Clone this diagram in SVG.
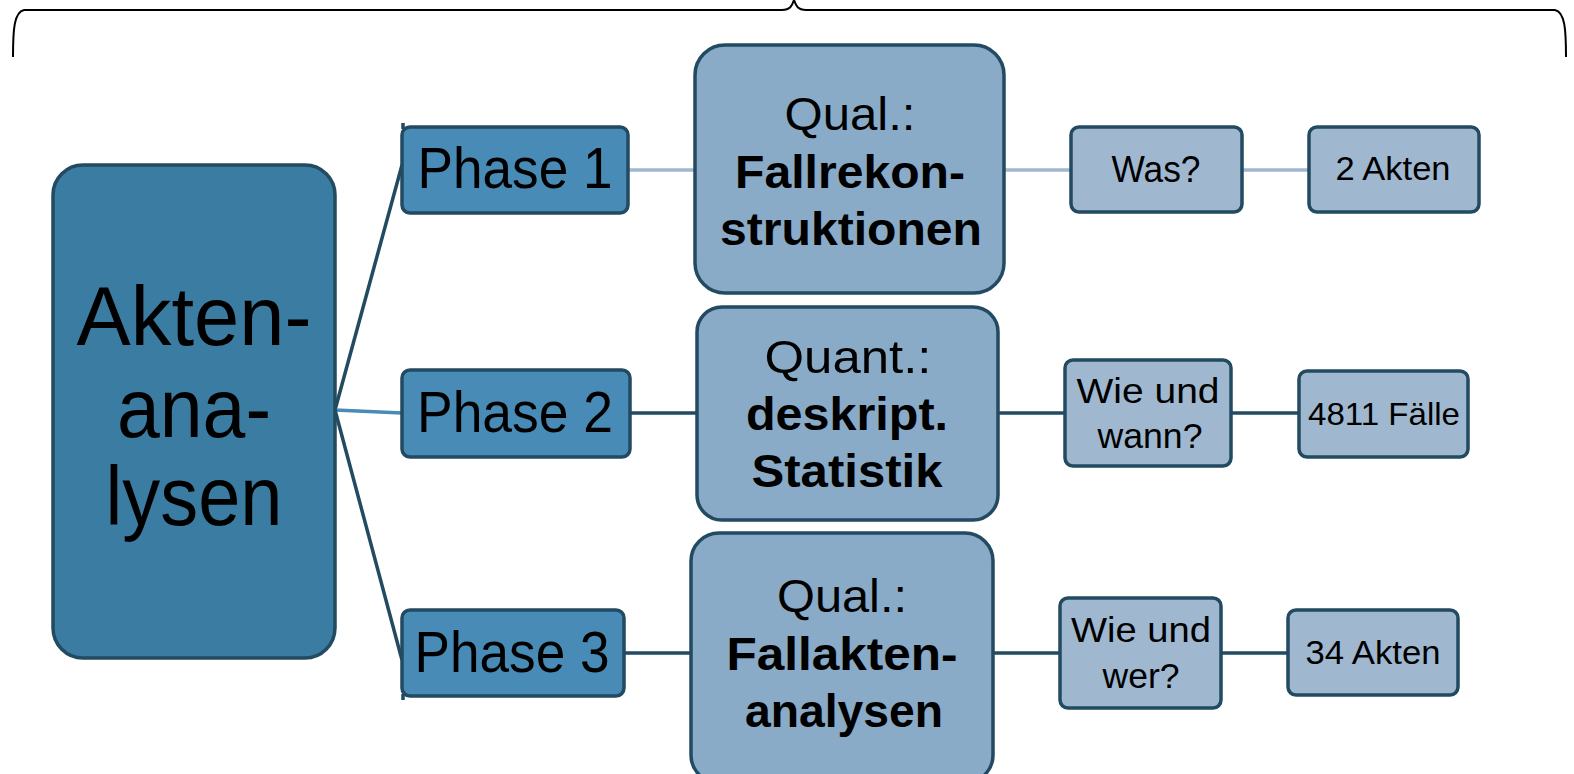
<svg xmlns="http://www.w3.org/2000/svg" width="1574" height="774" viewBox="0 0 1574 774">
<style>
.box{stroke:#224a61;stroke-width:3.5}
.main{fill:#3b7ca2}
.ph{fill:#478bb6}
.big{fill:#89abc7}
.sm{fill:#9fb8d0}
text{font-family:"Liberation Sans",Arial,sans-serif;fill:#000;text-anchor:middle}
.b{font-weight:bold}
.cd{stroke:#224a61;stroke-width:3.5;fill:none}
.cl{stroke:#9fb8d0;stroke-width:3.5;fill:none}
.cm{stroke:#478bb6;stroke-width:3.5;fill:none}
</style>
<path d="M13,57 C13,30 14,12 24,10 L782,10 C790,10 792,6 794,0 C796,6 798,10 806,10 L1555,10 C1565,12 1566,30 1566,57" fill="none" stroke="#000" stroke-width="2"/>
<g id="connectors">
<line class="cd" x1="335" y1="410" x2="402" y2="165"/>
<line class="cd" x1="403" y1="129" x2="403" y2="123"/>
<line class="cm" x1="335" y1="410" x2="402" y2="413"/>
<line class="cd" x1="335" y1="410" x2="402" y2="660"/>
<line class="cd" x1="403" y1="694" x2="403" y2="700"/>
<line class="cl" x1="628" y1="170" x2="695" y2="170"/>
<line class="cl" x1="1004" y1="170" x2="1071" y2="170"/>
<line class="cl" x1="1242" y1="170" x2="1309" y2="170"/>
<line class="cd" x1="630" y1="413" x2="697" y2="413"/>
<line class="cd" x1="998" y1="413" x2="1065" y2="413"/>
<line class="cd" x1="1231" y1="413" x2="1299" y2="413"/>
<line class="cd" x1="624" y1="653" x2="691" y2="653"/>
<line class="cd" x1="993" y1="653" x2="1060" y2="653"/>
<line class="cd" x1="1221" y1="653" x2="1288" y2="653"/>
</g>
<g id="akten">
<rect class="box main" x="53" y="165" width="282" height="493" rx="30"/>
<text x="194" y="345" font-size="84" textLength="235" lengthAdjust="spacingAndGlyphs">Akten-</text>
<text x="194" y="437" font-size="84" textLength="154" lengthAdjust="spacingAndGlyphs">ana-</text>
<text x="194" y="525" font-size="84" textLength="177" lengthAdjust="spacingAndGlyphs">lysen</text>
</g>
<g id="phase1">
<rect class="box ph" x="402" y="127" width="226" height="86" rx="8"/>
<text x="515" y="188" font-size="58" textLength="195" lengthAdjust="spacingAndGlyphs">Phase 1</text>
</g>
<g id="phase2">
<rect class="box ph" x="402" y="370" width="228" height="87" rx="8"/>
<text x="515" y="432" font-size="58" textLength="196" lengthAdjust="spacingAndGlyphs">Phase 2</text>
</g>
<g id="phase3">
<rect class="box ph" x="402" y="610" width="222" height="86" rx="8"/>
<text x="512" y="672" font-size="58" textLength="195" lengthAdjust="spacingAndGlyphs">Phase 3</text>
</g>
<g id="qual1">
<rect class="box big" x="695" y="45" width="309" height="248" rx="30"/>
<text x="850" y="130" font-size="46" textLength="131" lengthAdjust="spacingAndGlyphs">Qual.:</text>
<text class="b" x="850" y="188" font-size="46" textLength="230" lengthAdjust="spacingAndGlyphs">Fallrekon-</text>
<text class="b" x="851" y="245" font-size="46" textLength="262" lengthAdjust="spacingAndGlyphs">struktionen</text>
</g>
<g id="quant">
<rect class="box big" x="697" y="307" width="301" height="213" rx="25"/>
<text x="848" y="373" font-size="46" textLength="167" lengthAdjust="spacingAndGlyphs">Quant.:</text>
<text class="b" x="847" y="430" font-size="46" textLength="202" lengthAdjust="spacingAndGlyphs">deskript.</text>
<text class="b" x="847" y="487" font-size="46" textLength="191" lengthAdjust="spacingAndGlyphs">Statistik</text>
</g>
<g id="qual3">
<rect class="box big" x="691" y="533" width="302" height="250" rx="28"/>
<text x="842" y="612" font-size="46" textLength="130" lengthAdjust="spacingAndGlyphs">Qual.:</text>
<text class="b" x="842" y="670" font-size="46" textLength="231" lengthAdjust="spacingAndGlyphs">Fallakten-</text>
<text class="b" x="844" y="727" font-size="46" textLength="198" lengthAdjust="spacingAndGlyphs">analysen</text>
</g>
<g id="was">
<rect class="box sm" x="1071" y="127" width="171" height="85" rx="8"/>
<text x="1156" y="182" font-size="36" textLength="89" lengthAdjust="spacingAndGlyphs">Was?</text>
</g>
<g id="akten2">
<rect class="box sm" x="1309" y="127" width="170" height="85" rx="8"/>
<text x="1393" y="180" font-size="33" textLength="115" lengthAdjust="spacingAndGlyphs">2 Akten</text>
</g>
<g id="wiewann">
<rect class="box sm" x="1065" y="360" width="166" height="106" rx="8"/>
<text x="1148" y="403" font-size="35" textLength="143" lengthAdjust="spacingAndGlyphs">Wie und</text>
<text x="1150" y="448" font-size="35" textLength="105" lengthAdjust="spacingAndGlyphs">wann?</text>
</g>
<g id="faelle">
<rect class="box sm" x="1299" y="371" width="169" height="86" rx="8"/>
<text x="1384" y="425" font-size="32" textLength="152" lengthAdjust="spacingAndGlyphs">4811 Fälle</text>
</g>
<g id="wiewer">
<rect class="box sm" x="1060" y="598" width="161" height="110" rx="8"/>
<text x="1141" y="642" font-size="35" textLength="140" lengthAdjust="spacingAndGlyphs">Wie und</text>
<text x="1141" y="688" font-size="35" textLength="77" lengthAdjust="spacingAndGlyphs">wer?</text>
</g>
<g id="akten34">
<rect class="box sm" x="1288" y="610" width="170" height="85" rx="8"/>
<text x="1373" y="664" font-size="33" textLength="135" lengthAdjust="spacingAndGlyphs">34 Akten</text>
</g>
</svg>
